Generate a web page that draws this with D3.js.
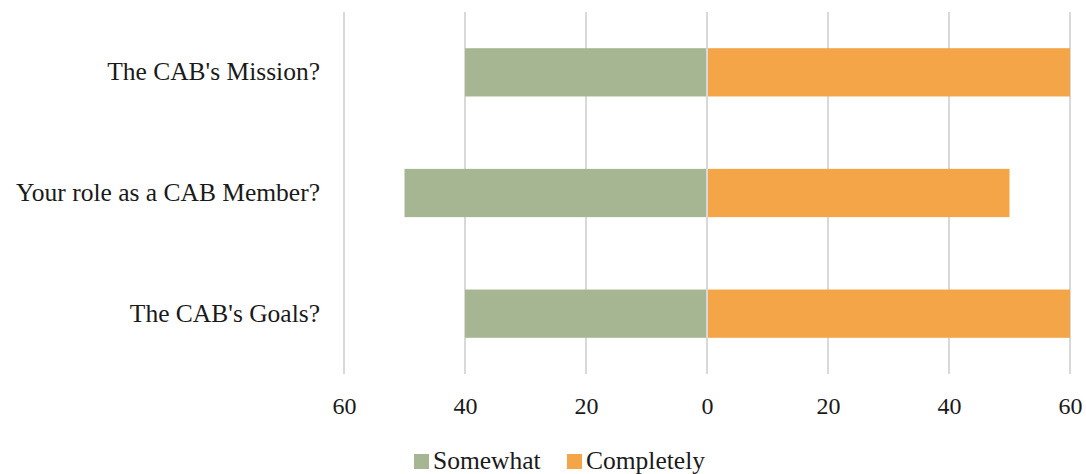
<!DOCTYPE html>
<html>
<head>
<meta charset="utf-8">
<script src="https://cdn.jsdelivr.net/npm/d3@7"></script>
<style>
  html, body { margin: 0; padding: 0; background: #fff; }
  svg { display: block; }
</style>
</head>
<body>
<svg id="chart" width="1086" height="474"></svg>
<script>
// Survey questions, top to bottom
const categories = ["The CAB's Mission?", "Your role as a CAB Member?", "The CAB's Goals?"];
// Share of responses per category (percent)
const somewhat = [40, 50, 40];
const completely = [60, 50, 60];
const tickValues = [-60, -40, -20, 0, 20, 40, 60];
const seriesNames = ["Somewhat", "Completely"];
const seriesColors = ["#A6B693", "#F3A547"];

const FONT = '"Liberation Serif", "Times New Roman", serif';
const TEXT_COLOR = "#1a1a1a";

const svg = d3.select("#chart");
const margin = { left: 344, right: 16, top: 12, bottom: 100 };
const W = 1086, H = 474;

const x = d3.scaleLinear().domain([-60, 60]).range([margin.left, W - margin.right]);
const y = d3.scaleBand().domain(categories).range([margin.top, H - margin.bottom])
  .paddingInner(0.6).paddingOuter(0.3);

// Vertical gridlines
svg.append("g").selectAll("line").data(tickValues).join("line")
  .attr("x1", d => x(d)).attr("x2", d => x(d))
  .attr("y1", margin.top).attr("y2", H - margin.bottom)
  .attr("stroke", "#d9d9d9").attr("stroke-width", 2);

const rows = categories.map((c, i) => ({ c, s: somewhat[i], k: completely[i] }));

// Left side: "Somewhat"
svg.append("g").selectAll("rect").data(rows).join("rect")
  .attr("x", d => x(-d.s)).attr("width", d => x(0) - x(-d.s))
  .attr("y", d => y(d.c)).attr("height", y.bandwidth())
  .attr("fill", seriesColors[0]);

// Right side: "Completely"
svg.append("g").selectAll("rect").data(rows).join("rect")
  .attr("x", x(0)).attr("width", d => x(d.k) - x(0))
  .attr("y", d => y(d.c)).attr("height", y.bandwidth())
  .attr("fill", seriesColors[1]);

// Zero line on top of bars
svg.append("line")
  .attr("x1", x(0)).attr("x2", x(0))
  .attr("y1", margin.top).attr("y2", H - margin.bottom)
  .attr("stroke", "#d9d9d9").attr("stroke-width", 2);

// Category labels
svg.append("g").selectAll("text").data(categories).join("text")
  .attr("x", margin.left - 24)
  .attr("y", d => y(d) + y.bandwidth() / 2)
  .attr("dy", "0.32em")
  .attr("text-anchor", "end")
  .style("font-family", FONT).style("font-size", "25.5px")
  .attr("fill", TEXT_COLOR)
  .text(d => d);

// Bottom axis with absolute values
const axis = d3.axisBottom(x).tickValues(tickValues).tickSize(0).tickPadding(0)
  .tickFormat(d => Math.abs(d));
const ax = svg.append("g").attr("transform", `translate(0, 414)`).call(axis);
ax.select(".domain").remove();
ax.selectAll("text").attr("dy", 0)
  .style("font-family", FONT).style("font-size", "24px").attr("fill", TEXT_COLOR);

// Legend
const legend = svg.append("g").attr("transform", "translate(0, 469)");
const items = [
  { name: seriesNames[0], color: seriesColors[0], x: 414 },
  { name: seriesNames[1], color: seriesColors[1], x: 567 }
];
items.forEach(it => {
  legend.append("rect").attr("x", it.x).attr("y", -15).attr("width", 15).attr("height", 15).attr("fill", it.color);
  legend.append("text").attr("x", it.x + 19).attr("y", 0)
    .style("font-family", FONT).style("font-size", "25.5px").attr("fill", TEXT_COLOR)
    .text(it.name);
});
</script>
</body>
</html>
